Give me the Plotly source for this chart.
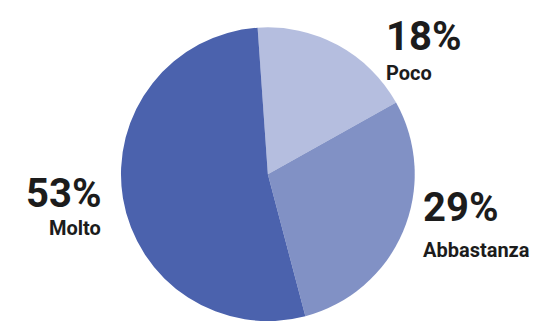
import plotly.graph_objects as go

# Data
labels = ["Poco", "Abbastanza", "Molto"]
values = [18, 29, 53]
colors = ["#b5bedf", "#8191c5", "#4b62ad"]

# label placement (paper coords) for each slice
label_x = [0.698, 0.767, 0.176]
pct_y = [0.913, 0.385, 0.428]
name_y = [0.798, 0.252, 0.322]
anchors = ["left", "left", "right"]

fig = go.Figure()
fig.add_trace(go.Pie(
    labels=labels,
    values=values,
    sort=False,
    direction="clockwise",
    rotation=-4,
    marker=dict(colors=colors, line=dict(width=0)),
    textinfo="none",
    hoverinfo="label+percent",
    showlegend=False,
    domain=dict(x=[0.210, 0.756], y=[0.02, 0.954]),
))

for i, lab in enumerate(labels):
    fig.add_annotation(
        x=label_x[i], y=pct_y[i], xref="paper", yref="paper",
        xanchor=anchors[i], yanchor="middle", showarrow=False,
        text=f"<b>{values[i]}%</b>",
        font=dict(family="Roboto", size=40, color="#1c1c1c"),
    )
    fig.add_annotation(
        x=label_x[i], y=name_y[i], xref="paper", yref="paper",
        xanchor=anchors[i], yanchor="middle", showarrow=False,
        text=f"<b>{lab}</b>",
        font=dict(family="Roboto", size=20, color="#1c1c1c"),
    )

fig.update_layout(
    width=538, height=324,
    margin=dict(l=0, r=0, t=0, b=0),
    paper_bgcolor="white",
    plot_bgcolor="white",
)

fig.write_html("out.html")
